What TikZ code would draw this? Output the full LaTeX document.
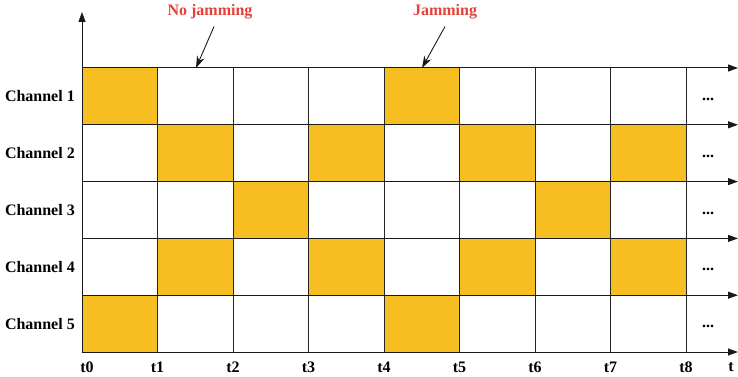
\documentclass[tikz,border=0pt]{standalone}
\usepackage{fontspec}
\setmainfont{Liberation Serif}
\usetikzlibrary{arrows.meta}
\definecolor{jam}{HTML}{F7BE21}
\definecolor{lbl}{HTML}{E5403A}
\begin{document}
\begin{tikzpicture}[x=1pt,y=-1pt,
  txt/.style={font=\fontsize{16}{18}\selectfont\bfseries, inner sep=0pt},
  gridline/.style={draw=black!85, line width=1pt},
  axisarrow/.style={draw=black!90, line width=1pt, -{Triangle[length=10pt,width=7pt]}},
  callout/.style={draw=black!90, line width=0.9pt, -{Stealth[length=12pt,width=8pt]}},
  jamcell/.style={fill=jam, draw=none},
  redlbl/.style={txt, text=lbl}]
\useasboundingbox (0,0) rectangle (738,377);
% orange cells (column index 1..8, row index 1..5)
\foreach \c/\r in {1/1,5/1,2/2,4/2,6/2,8/2,3/3,7/3,2/4,4/4,6/4,8/4,1/5,5/5}{
  \fill[jamcell] ({82+(\c-1)*75.5},{68+(\r-1)*56.8}) rectangle ({82+\c*75.5},{68+\r*56.8});
}
% vertical grid lines
\foreach \k in {1,...,8}{
  \draw[gridline] ({82+\k*75.5},68) -- ({82+\k*75.5},352);
}
% horizontal arrows
\foreach \r in {0,...,5}{
  \coordinate (hs\r) at (82,{68+\r*56.8});
  \coordinate (he\r) at (738,{68+\r*56.8});
  \draw[axisarrow] (hs\r) -- (he\r);
}
% vertical axis
\coordinate (vb) at (82,352);
\coordinate (vt) at (82,12);
\draw[axisarrow] (vb) -- (vt);
% channel labels and dots
\foreach \r in {1,...,5}{
  \node[txt, anchor=east] (ch\r) at (75,{68+(\r-0.5)*56.8}) {Channel \r};
  \node[txt, anchor=base] (dots\r) at (708,{68+(\r-0.5)*56.8+4}) {...};
}
% time labels
\node[txt] (t0) at (87,367) {t0};
\foreach \k in {1,...,8}{
  \node[txt] (t\k) at ({82+\k*75.5},367) {t\k};
}
\node[txt] (tt) at (731,367) {t};
% callouts
\node[redlbl] (nojam) at (210,12) {No jamming};
\node[redlbl] (jam) at (445,12) {Jamming};
\coordinate (nojamtip) at (196,68);
\coordinate (jamtip) at (422,68);
\draw[callout] (nojam.south -| 214,0) ++(0,7) -- (nojamtip);
\draw[callout] (jam.south) ++(0,7) -- (jamtip);
\end{tikzpicture}
\end{document}
